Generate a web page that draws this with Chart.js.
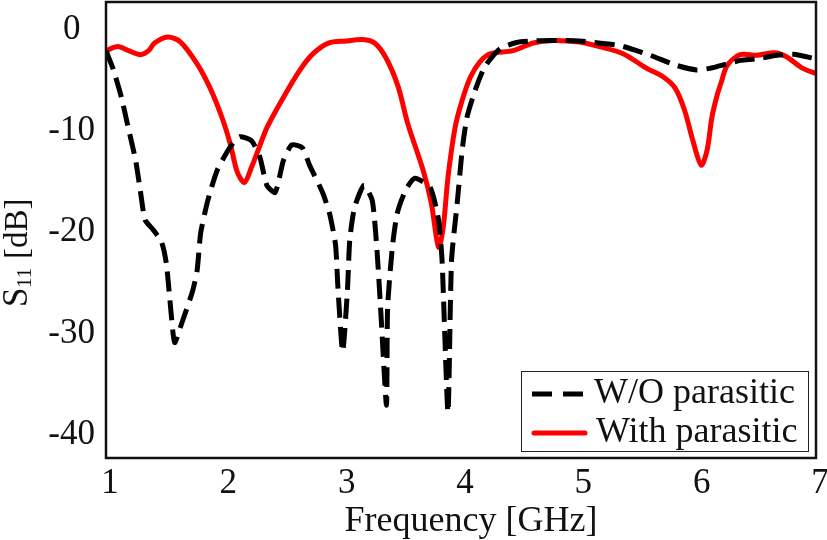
<!DOCTYPE html>
<html>
<head>
<meta charset="utf-8">
<title>S11</title>
<style>
  html, body { margin: 0; padding: 0; background: #fff; }
  canvas { display: block; }
</style>
<script src="https://cdn.jsdelivr.net/npm/chart.js"></script>
</head>
<body>
<canvas id="s11Chart" width="827" height="540"></canvas>
<script>
// values: frequency in GHz, S11 in dB
const noParasiticFreq = [1.0, 1.06, 1.13, 1.19, 1.25, 1.29, 1.33, 1.40, 1.47, 1.51, 1.54, 1.58, 1.64, 1.73, 1.77, 1.80, 1.86, 1.94, 2.05, 2.13, 2.23, 2.30, 2.36, 2.43, 2.50, 2.57, 2.66, 2.72, 2.83, 2.89, 2.94, 2.96, 3.00, 3.04, 3.06, 3.10, 3.18, 3.25, 3.29, 3.32, 3.37, 3.38, 3.42, 3.46, 3.53, 3.61, 3.74, 3.81, 3.84, 3.89, 3.92, 3.97, 4.01, 4.05, 4.12, 4.20, 4.33, 4.47, 4.61, 4.78, 5.0, 5.34, 5.60, 5.82, 5.99, 6.10, 6.25, 6.36, 6.50, 6.67, 6.81, 7.0];
const noParasiticDb = [-2.3, -4.1, -6.9, -10, -13.1, -16.1, -19, -20, -21.2, -23.3, -26.9, -31.1, -29.2, -26.1, -24, -20.3, -17.1, -14.1, -11.8, -10.8, -11.2, -12.8, -15.6, -16.3, -13.1, -11.6, -11.9, -13.6, -16.3, -18.4, -21.5, -25.7, -32, -26, -21, -17.8, -15.6, -17.1, -22, -27.6, -37.3, -27.6, -21.7, -18.4, -16.1, -14.9, -15.8, -19, -23, -38, -23, -17.1, -12.1, -8.9, -6.2, -3.9, -2.1, -1.5, -1.35, -1.3, -1.35, -1.8, -2.76, -3.75, -4.2, -4.05, -3.6, -3.26, -3.1, -2.76, -2.66, -3.1];

const withParasiticFreq = [1.0, 1.10, 1.19, 1.29, 1.36, 1.41, 1.52, 1.63, 1.77, 1.88, 1.98, 2.05, 2.11, 2.17, 2.23, 2.29, 2.36, 2.50, 2.64, 2.75, 2.88, 3.03, 3.17, 3.27, 3.37, 3.47, 3.55, 3.68, 3.75, 3.81, 3.85, 3.89, 3.95, 4.01, 4.08, 4.16, 4.25, 4.44, 4.61, 4.77, 5.0, 5.17, 5.37, 5.57, 5.71, 5.81, 5.89, 5.96, 6.03, 6.08, 6.12, 6.16, 6.20, 6.25, 6.36, 6.50, 6.65, 6.75, 6.88, 7.0];
const withParasiticDb = [-2.3, -1.9, -2.3, -2.7, -2.3, -1.55, -0.95, -1.45, -3.6, -6, -8.9, -11.5, -14.3, -15.3, -13.8, -12, -9.9, -6.9, -4.2, -2.6, -1.55, -1.35, -1.2, -1.55, -3.1, -5.9, -9.5, -14.1, -17.4, -21.7, -19.7, -14.8, -9.9, -7.2, -4.9, -3.4, -2.6, -2.3, -1.55, -1.3, -1.45, -1.9, -2.6, -4.05, -4.9, -6, -8.2, -11.2, -13.6, -12.1, -8.9, -6.9, -5.4, -3.75, -2.7, -2.76, -2.5, -2.9, -4.0, -4.55];

const freqTicks = [1, 2, 3, 4, 5, 6, 7];
const dbTicks = [0, -10, -20, -30, -40];

const serif = '"Liberation Serif", "Times New Roman", serif';

function toPoints(xs, ys) {
  return xs.map((x, i) => ({ x: x, y: ys[i] }));
}

// fixed axis size, and tick labels must not push the plot area in
function fixAxis(scale, width, height) {
  if (width) scale.width = width;
  if (height) scale.height = height;
  scale.paddingTop = 0;
  scale.paddingBottom = 0;
  scale.paddingLeft = 0;
  scale.paddingRight = 0;
}

// frame on all four sides, axis titles and the boxed legend
const framePlugin = {
  id: 'frame',
  afterDatasetsDraw(chart) {
    const ctx = chart.ctx;
    const a = chart.chartArea;
    ctx.save();
    ctx.strokeStyle = '#111';
    ctx.lineWidth = 2.5;
    ctx.setLineDash([]);
    ctx.strokeRect(a.left, a.top, a.right - a.left, a.bottom - a.top);

    // x title
    ctx.fillStyle = '#111';
    ctx.textBaseline = 'alphabetic';
    ctx.textAlign = 'center';
    ctx.font = '36px ' + serif;
    ctx.fillText('Frequency [GHz]', 471, 531);

    // y title, S with a small 11
    ctx.save();
    ctx.translate(27, 0);
    ctx.rotate(-Math.PI / 2);
    ctx.textAlign = 'left';
    ctx.font = '35px ' + serif;
    ctx.fillText('S', -307, 0);
    ctx.font = '21px ' + serif;
    ctx.fillText('11', -288, 4);
    ctx.font = '33px ' + serif;
    ctx.fillText('[dB]', -259, 0);
    ctx.restore();

    // legend
    ctx.fillStyle = '#fff';
    ctx.fillRect(521, 371, 287, 80);
    ctx.strokeStyle = '#222';
    ctx.lineWidth = 1;
    ctx.strokeRect(521.5, 371.5, 287, 80);

    const ds = chart.data.datasets;
    ctx.lineWidth = 5;
    ctx.strokeStyle = ds[0].borderColor;
    ctx.setLineDash([20, 11]);
    ctx.beginPath();
    ctx.moveTo(532, 394);
    ctx.lineTo(584, 394);
    ctx.stroke();

    ctx.strokeStyle = ds[1].borderColor;
    ctx.setLineDash([]);
    ctx.lineCap = 'round';
    ctx.beginPath();
    ctx.moveTo(534, 433);
    ctx.lineTo(585, 433);
    ctx.stroke();

    ctx.fillStyle = '#111';
    ctx.textAlign = 'left';
    ctx.font = '36px ' + serif;
    ctx.fillText(ds[0].label, 594, 403);
    ctx.fillText(ds[1].label, 596, 442);
    ctx.restore();
  }
};

new Chart(document.getElementById('s11Chart').getContext('2d'), {
  type: 'scatter',
  data: {
    datasets: [
      {
        label: 'W/O parasitic',
        data: toPoints(noParasiticFreq, noParasiticDb),
        showLine: true,
        borderColor: '#000000',
        borderWidth: 5,
        borderDash: [20, 9],
        pointRadius: 0,
        tension: 0.2
      },
      {
        label: 'With parasitic',
        data: toPoints(withParasiticFreq, withParasiticDb),
        showLine: true,
        borderColor: '#ff0000',
        borderWidth: 5,
        pointRadius: 0,
        tension: 0.3
      }
    ]
  },
  options: {
    responsive: false,
    animation: false,
    layout: { autoPadding: false, padding: { top: 2, right: 11, bottom: 0, left: 0 } },
    plugins: { legend: { display: false }, tooltip: { enabled: false } },
    scales: {
      x: {
        type: 'linear',
        min: 1,
        max: 7,
        afterBuildTicks: s => { s.ticks = freqTicks.map(v => ({ value: v })); },
        afterFit: s => fixAxis(s, 0, 82),
        grid: { display: false, drawTicks: false },
        border: { display: false },
        ticks: {
          padding: 5,
          labelOffset: 4,
          maxRotation: 0,
          autoSkip: false,
          color: '#111',
          font: { family: serif, size: 35 }
        }
      },
      y: {
        type: 'linear',
        min: -42.5,
        max: 2.5,
        afterBuildTicks: s => { s.ticks = dbTicks.map(v => ({ value: v })); },
        afterFit: s => fixAxis(s, 106, 0),
        grid: { display: false, drawTicks: false },
        border: { display: false },
        ticks: {
          padding: 11,
          labelOffset: 2,
          crossAlign: 'center',
          autoSkip: false,
          color: '#111',
          font: { family: serif, size: 35 }
        }
      }
    }
  },
  plugins: [framePlugin]
});
</script>
</body>
</html>
